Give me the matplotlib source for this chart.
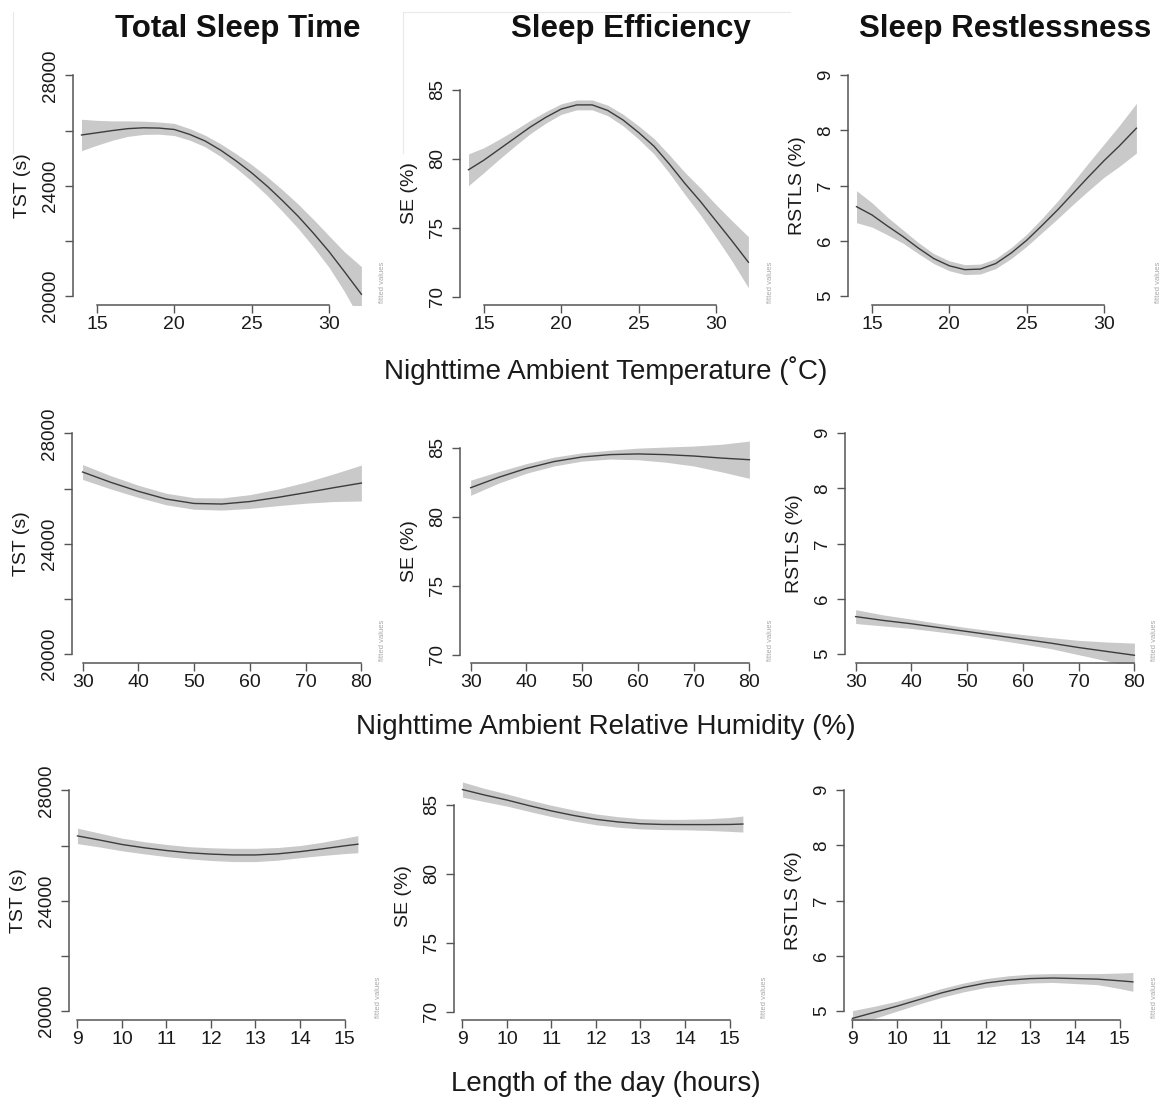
import matplotlib
matplotlib.use("Agg")
import matplotlib.pyplot as plt
from matplotlib.lines import Line2D

plt.rcParams["font.family"] = ["Liberation Sans", "DejaVu Sans"]

W, H = 1171, 1102
INK = "#1a1a1a"
AXC = "#555555"
BAND = "#c9c9c9"
CURVE = "#3c3c3c"

# ---- data ----
temp = [14.0, 15, 16, 17, 18, 19, 20, 21, 22, 23, 24, 25, 26, 27, 28, 29, 30, 31, 32.1]
humid = [30, 35, 40, 45, 50, 55, 60, 65, 70, 75, 80]
daylen = [9.0, 9.5, 10, 10.5, 11, 11.5, 12, 12.5, 13, 13.5, 14, 14.5, 15, 15.3]

# fitted value and half width of the band
tst_temp = [25840, 25920, 26000, 26070, 26100, 26090, 26040, 25860, 25620, 25290,
            24900, 24470, 23990, 23460, 22900, 22280, 21620, 20890, 20070]
tst_temp_hw = [570, 450, 350, 280, 240, 220, 220, 210, 210, 230,
               260, 300, 340, 390, 440, 500, 570, 720, 1000]
se_temp = [79.2, 79.9, 80.7, 81.5, 82.3, 83.0, 83.6, 83.9, 83.9, 83.5,
           82.8, 81.9, 80.9, 79.6, 78.2, 76.9, 75.5, 74.1, 72.5]
se_temp_hw = [1.15, 0.9, 0.72, 0.58, 0.48, 0.42, 0.38, 0.36, 0.36, 0.38,
              0.42, 0.48, 0.56, 0.66, 0.8, 0.98, 1.18, 1.45, 1.85]
rs_temp = [6.62, 6.47, 6.27, 6.08, 5.87, 5.68, 5.55, 5.48, 5.49, 5.59,
           5.78, 6.01, 6.28, 6.56, 6.86, 7.16, 7.45, 7.72, 8.04]
rs_temp_hw = [0.29, 0.22, 0.16, 0.12, 0.1, 0.09, 0.09, 0.09, 0.09, 0.09,
              0.1, 0.11, 0.13, 0.16, 0.2, 0.25, 0.3, 0.37, 0.45]

tst_hum = [26600, 26230, 25900, 25620, 25460, 25440, 25530, 25680, 25850, 26030, 26200]
tst_hum_hw = [270, 240, 220, 210, 210, 220, 250, 300, 380, 500, 650]
se_hum = [82.1, 82.85, 83.5, 84.0, 84.33, 84.5, 84.55, 84.5, 84.4, 84.25, 84.13]
se_hum_hw = [0.55, 0.42, 0.35, 0.32, 0.3, 0.32, 0.42, 0.55, 0.72, 1.0, 1.35]
rs_hum = [5.68, 5.61, 5.55, 5.48, 5.41, 5.34, 5.27, 5.2, 5.12, 5.05, 4.98]
rs_hum_hw = [0.125, 0.1, 0.085, 0.075, 0.07, 0.075, 0.085, 0.1, 0.13, 0.17, 0.22]

tst_day = [26350, 26200, 26040, 25920, 25820, 25740, 25690, 25660, 25660, 25700,
           25780, 25880, 25990, 26050]
tst_day_hw = [280, 250, 230, 220, 220, 220, 230, 240, 240, 230, 220, 240, 280, 310]
se_day = [86.1, 85.7, 85.34, 84.93, 84.55, 84.22, 83.94, 83.75, 83.62, 83.57,
          83.56, 83.56, 83.57, 83.6]
se_day_hw = [0.55, 0.48, 0.44, 0.42, 0.41, 0.4, 0.39, 0.38, 0.37, 0.37,
             0.38, 0.42, 0.5, 0.58]
rs_day = [4.87, 4.98, 5.09, 5.21, 5.33, 5.43, 5.51, 5.56, 5.59, 5.6, 5.59, 5.58, 5.55, 5.53]
rs_day_hw = [0.14, 0.11, 0.09, 0.08, 0.08, 0.08, 0.08, 0.08, 0.08, 0.08,
             0.09, 0.1, 0.14, 0.17]

titles = ["Total Sleep Time", "Sleep Efficiency", "Sleep Restlessness"]
ylabels = ["TST (s)", "SE (%)", "RSTLS (%)"]
yticks = [[20000, 22000, 24000, 26000, 28000], [70, 75, 80, 85], [5, 6, 7, 8, 9]]
ytick_labels = [["20000", "", "24000", "", "28000"], ["70", "75", "80", "85"],
                ["5", "6", "7", "8", "9"]]
row_xlabels = ["Nighttime Ambient Temperature (\u02daC)",
               "Nighttime Ambient Relative Humidity (%)",
               "Length of the day (hours)"]
xticks = [[15, 20, 25, 30], [30, 40, 50, 60, 70, 80], [9, 10, 11, 12, 13, 14, 15]]

rows = [
    (temp, [(tst_temp, tst_temp_hw), (se_temp, se_temp_hw), (rs_temp, rs_temp_hw)]),
    (humid, [(tst_hum, tst_hum_hw), (se_hum, se_hum_hw), (rs_hum, rs_hum_hw)]),
    (daylen, [(tst_day, tst_day_hw), (se_day, se_day_hw), (rs_day, rs_day_hw)]),
]

# ---- layout (pixels) ----
xlims = [(13.45, 32.85), (28.1, 81.9), (8.81, 15.55)]
ylims = [(19680, 28320), (69.4, 85.6), (4.84, 9.16)]
yscale = [0.0276, 13.8, 55.25]           # px per unit
lefts = [[73, 460, 848], [72, 460, 845], [69, 454, 844]]
bottoms = [305, 663, 1020]
panel_w = 300
xlabel_y = [371, 727, 1084]

fig = plt.figure(figsize=(W / 100, H / 100), dpi=100)
fig.patch.set_facecolor("white")

for r, (xs, series) in enumerate(rows):
    for c, (fit, hw) in enumerate(series):
        lo_lim, hi_lim = ylims[c]
        if r == 2 and c == 1:
            hi_lim = 87.3
        h = (hi_lim - lo_lim) * yscale[c]
        left, bottom = lefts[r][c], bottoms[r]
        ax = fig.add_axes([left / W, 1 - bottom / H, panel_w / W, h / H])

        lower = [f - e for f, e in zip(fit, hw)]
        upper = [f + e for f, e in zip(fit, hw)]
        ax.fill_between(xs, lower, upper, color=BAND, lw=0)
        ax.plot(xs, fit, color=CURVE, lw=1.0)

        ax.set_xlim(*xlims[r])
        ax.set_ylim(lo_lim, hi_lim)
        ax.set_xticks(xticks[r])
        ax.set_yticks(yticks[c])
        ax.set_yticklabels(ytick_labels[c], rotation=90, va="center")
        for s in ("top", "right"):
            ax.spines[s].set_visible(False)
        ax.spines["left"].set_bounds(yticks[c][0], yticks[c][-1])
        ax.spines["bottom"].set_bounds(xticks[r][0], xticks[r][-1])
        for s in ("left", "bottom"):
            ax.spines[s].set_color(AXC)
            ax.spines[s].set_linewidth(1.1)
        ax.tick_params(axis="both", direction="out", length=6, width=1,
                       color=AXC, labelcolor=INK)
        ax.tick_params(axis="x", labelsize=14, pad=2)
        ax.tick_params(axis="y", labelsize=13.5, pad=4)
        ax.set_ylabel(ylabels[c], fontsize=14, color=INK, labelpad=8)
        ax.patch.set_alpha(0)

        fig.text((left + 310) / W, 1 - (bottom - 23) / H, "fitted values",
                 rotation=90, fontsize=5.5, color="#a8a8a8",
                 ha="center", va="center")

    fig.text(606 / W, 1 - xlabel_y[r] / H, row_xlabels[r], fontsize=20,
             color=INK, ha="center", va="center")

for x, t in zip([238, 631, 1005], titles):
    fig.text(x / W, 1 - 37 / H, t, fontsize=22.5, fontweight="bold",
             color="#111111", ha="center", va="baseline")

# faint panel borders left over from the original collage
for x0, y0, x1, y1 in [(13, 12, 13, 153), (403, 12, 403, 153), (403, 12, 790, 12)]:
    fig.add_artist(Line2D([x0 / W, x1 / W], [1 - y0 / H, 1 - y1 / H],
                          color="#e9e9e9", lw=0.8))

fig.savefig("out.png", dpi=100, facecolor="white")
